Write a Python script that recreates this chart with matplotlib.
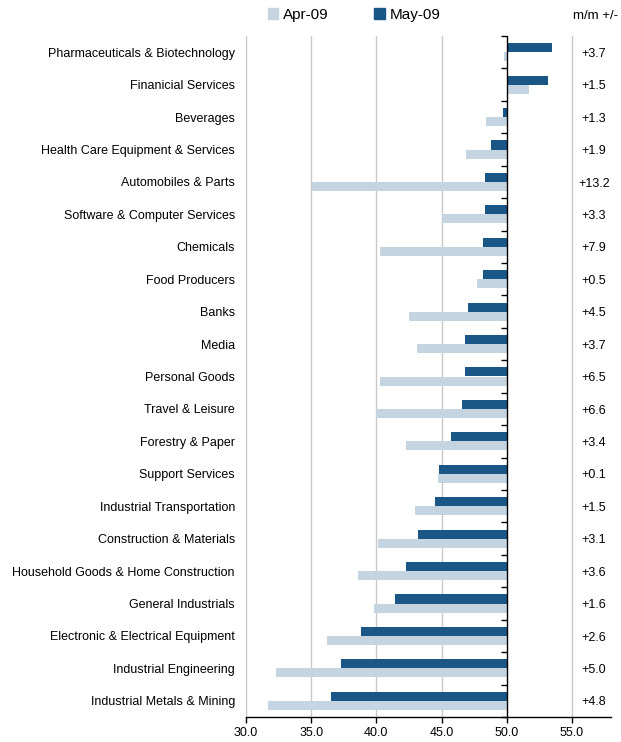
import matplotlib
matplotlib.use("Agg")
import matplotlib.pyplot as plt
import numpy as np
from matplotlib.patches import Patch

plt.rcParams['font.family'] = ['Liberation Sans', 'DejaVu Sans']

categories = [
    "Pharmaceuticals & Biotechnology",
    "Finanicial Services",
    "Beverages",
    "Health Care Equipment & Services",
    "Automobiles & Parts",
    "Software & Computer Services",
    "Chemicals",
    "Food Producers",
    "Banks",
    "Media",
    "Personal Goods",
    "Travel & Leisure",
    "Forestry & Paper",
    "Support Services",
    "Industrial Transportation",
    "Construction & Materials",
    "Household Goods & Home Construction",
    "General Industrials",
    "Electronic & Electrical Equipment",
    "Industrial Engineering",
    "Industrial Metals & Mining",
]
may09 = [53.5, 53.2, 49.7, 48.8, 48.3, 48.3, 48.2, 48.2, 47.0, 46.8, 46.8,
         46.6, 45.7, 44.8, 44.5, 43.2, 42.3, 41.4, 38.8, 37.3, 36.5]
apr09 = [49.8, 51.7, 48.4, 46.9, 35.1, 45.0, 40.3, 47.7, 42.5, 43.1, 40.3,
         40.0, 42.3, 44.7, 43.0, 40.1, 38.6, 39.8, 36.2, 32.3, 31.7]
mm_change = ["+3.7", "+1.5", "+1.3", "+1.9", "+13.2", "+3.3", "+7.9", "+0.5",
             "+4.5", "+3.7", "+6.5", "+6.6", "+3.4", "+0.1", "+1.5", "+3.1",
             "+3.6", "+1.6", "+2.6", "+5.0", "+4.8"]
xticks = [30, 35, 40, 45, 50, 55]
base = 50.0

c_may = "#1A5787"
c_apr = "#C4D4E0"

fig = plt.figure(figsize=(6.21, 7.42), dpi=100)
ax = fig.add_axes([246/621, 1-717/742, (611-246)/621, (717-36)/742])

n = len(categories)
y = np.arange(n)
h = 0.28
ax.barh(y - h/2, np.array(may09) - base, left=base, height=h, color=c_may, zorder=3)
ax.barh(y + h/2, np.array(apr09) - base, left=base, height=h, color=c_apr, zorder=3)

ax.set_xlim(30, 58)
ax.set_ylim(n - 0.5, -0.5)

for xv in xticks:
    if xv != base:
        ax.axvline(xv, color="#C8C8C8", lw=1.0, zorder=1)
ax.axvline(base, color="black", lw=1.0, zorder=4)
bounds = np.arange(n + 1) - 0.5
ax.plot([base] * len(bounds), bounds, linestyle="none", marker=0,
        markersize=4, color="black", mew=1.0, zorder=4, clip_on=False)

ax.set_yticks(y)
ax.set_yticklabels(categories, fontsize=9)
ax.tick_params(axis="y", length=0, pad=8)

ax.set_xticks(xticks)
ax.set_xticklabels([f"{v:.1f}" for v in xticks], fontsize=9)
ax.tick_params(axis="x", direction="out", length=4, width=1, pad=3)

for s in ["top", "right", "left"]:
    ax.spines[s].set_visible(False)
ax.spines["bottom"].set_color("black")
ax.spines["bottom"].set_linewidth(1.0)

for yi, t in zip(y, mm_change):
    ax.text(56.7, yi + 0.05, t, ha="center", va="center", fontsize=9)

handles = [Patch(color=c_apr, label="Apr-09"), Patch(color=c_may, label="May-09")]
fig.legend(handles=handles, loc="center", bbox_to_anchor=(354/621, 1-15/742),
           ncol=2, frameon=False, fontsize=11, handlelength=0.7,
           handleheight=0.7, handletextpad=0.3, columnspacing=3.0)
fig.text(573/621, 1-16/742, "m/m +/-", fontsize=9.5, ha="left", va="center")

fig.savefig("out.png", dpi=100)
